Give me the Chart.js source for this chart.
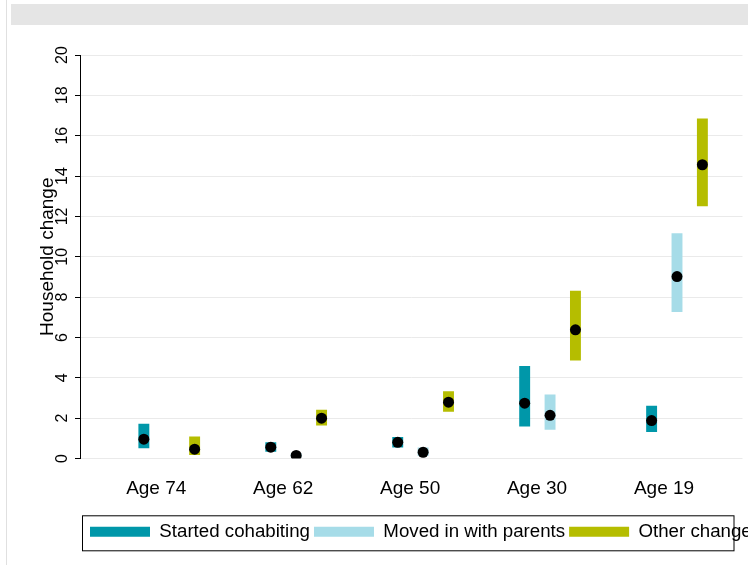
<!DOCTYPE html>
<html>
<head>
<meta charset="utf-8">
<script src="https://cdn.jsdelivr.net/npm/chart.js@4.4.0/dist/chart.umd.min.js"></script>
<style>
  html, body { margin: 0; padding: 0; background: #fff; }
  #wrap { position: relative; width: 748px; height: 565px; overflow: hidden; }
  #band { position: absolute; left: 11px; top: 4px; width: 737px; height: 21px; background: #e5e5e5; }
  #edge { position: absolute; left: 6px; top: 0; width: 1px; height: 565px; background: #e0e0e0; }
  canvas { position: absolute; left: 0; top: 0; }
</style>
</head>
<body>
<div id="wrap">
  <div id="edge"></div>
  <div id="band"></div>
  <canvas id="chart" width="748" height="565"></canvas>
</div>
<script>
const categories = ["Age 74", "Age 62", "Age 50", "Age 30", "Age 19"];

// point estimate and interval per category
const cohabitEst = [0.96, 0.56, 0.80, 2.74, 1.88];
const cohabitLo  = [0.51, 0.33, 0.55, 1.59, 1.31];
const cohabitHi  = [1.72, 0.80, 1.06, 4.58, 2.62];

const parentsEst = [null, 0.15, 0.31, 2.14, 9.02];
const parentsLo  = [null, 0.06, 0.12, 1.43, 7.26];
const parentsHi  = [null, 0.25, 0.55, 3.17, 11.16];

const otherEst = [0.46, 2.00, 2.79, 6.38, 14.56];
const otherLo  = [0.17, 1.63, 2.32, 4.86, 12.50];
const otherHi  = [1.09, 2.42, 3.33, 8.31, 16.85];

const yTicks = [0, 2, 4, 6, 8, 10, 12, 14, 16, 18, 20];

const CAT_PCT = 0.6;
const FONT = "'Liberation Sans', Arial, sans-serif";

function barData(lo, hi) {
  return categories
    .map((_, i) => (lo[i] == null ? null : { x: i, y: [lo[i], hi[i]] }))
    .filter((d) => d);
}

function dotData(est, slot) {
  const shift = (slot - 1) * CAT_PCT / 3;
  return categories
    .map((_, i) => (est[i] == null ? null : { x: i + shift, y: est[i] }))
    .filter((d) => d);
}

const series = [
  { label: "Started cohabiting", color: "#0097a9", lo: cohabitLo, hi: cohabitHi, est: cohabitEst },
  { label: "Moved in with parents", color: "#a6dce8", lo: parentsLo, hi: parentsHi, est: parentsEst },
  { label: "Other change", color: "#b5bd00", lo: otherLo, hi: otherHi, est: otherEst },
];

const datasets = [];
series.forEach((s) => {
  datasets.push({
    type: "bar",
    label: s.label,
    data: barData(s.lo, s.hi),
    backgroundColor: s.color,
    borderWidth: 0,
    borderSkipped: false,
    categoryPercentage: CAT_PCT,
    barPercentage: 0.43,
    order: 2,
  });
});
series.forEach((s, k) => {
  datasets.push({
    type: "scatter",
    label: "dot",
    data: dotData(s.est, k),
    backgroundColor: "#000",
    borderWidth: 0,
    pointRadius: 5.5,
    order: 1,
  });
});

// legend sits under the plot area, boxed, and may run past the right edge
const legendFrame = {
  id: "legendFrame",
  afterLayout(chart) {
    const lg = chart.legend;
    const dx = chart.chartArea.left + 6 - lg.left;
    lg.left += dx;
    lg.right += dx;
  },
  afterDraw(chart) {
    const lg = chart.legend;
    const area = chart.chartArea;
    const ctx = chart.ctx;
    ctx.save();
    ctx.strokeStyle = "#000";
    ctx.lineWidth = 1;
    ctx.strokeRect(area.left + 2.5, lg.top - 2.5, area.right - area.left - 11, 35);
    ctx.restore();
  },
};

new Chart(document.getElementById("chart"), {
  type: "bar",
  data: { datasets },
  plugins: [legendFrame],
  options: {
    responsive: false,
    animation: false,
    layout: { padding: { top: 55, left: 0, right: 0, bottom: 14 } },
    plugins: {
      tooltip: { enabled: false },
      legend: {
        position: "bottom",
        align: "start",
        labels: {
          filter: (item) => item.text !== "dot",
          boxWidth: 60,
          boxHeight: 10,
          padding: 4,
          color: "#000",
          font: { family: FONT, size: 18.7 },
        },
      },
    },
    scales: {
      x: {
        type: "linear",
        offset: false,
        min: -0.703,
        max: 4.516,
        afterBuildTicks: (axis) => {
          axis.ticks = categories.map((_, i) => ({ value: i }));
        },
        grid: { display: false, drawTicks: false },
        border: { display: false },
        ticks: {
          callback: (v, i) => categories[i],
          labelOffset: -13,
          padding: 18.5,
          maxRotation: 0,
          autoSkip: false,
          color: "#000",
          font: { family: FONT, size: 19 },
        },
      },
      y: {
        min: 0,
        max: 20,
        afterFit: (axis) => { axis.width = 80; },
        afterBuildTicks: (axis) => {
          axis.ticks = yTicks.map((v) => ({ value: v }));
        },
        grid: { color: "#eaeaea", tickColor: "#000", tickLength: 5 },
        border: { display: true, color: "#000", width: 1 },
        ticks: {
          minRotation: 90,
          maxRotation: 90,
          crossAlign: "center",
          padding: 4,
          color: "#000",
          font: { family: FONT, size: 16 },
        },
        title: {
          display: true,
          text: "Household change",
          color: "#000",
          padding: { top: 36, bottom: 0 },
          font: { family: FONT, size: 19 },
        },
      },
    },
  },
});
</script>
</body>
</html>
